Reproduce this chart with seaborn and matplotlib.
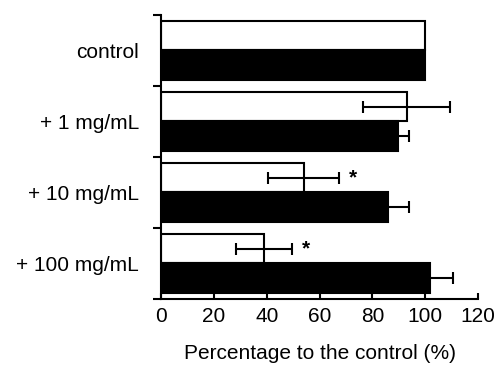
import matplotlib
matplotlib.use("Agg")
import matplotlib.pyplot as plt
import pandas as pd
import seaborn as sns

# values
groups = ["control", "+ 1 mg/mL", "+ 10 mg/mL", "+ 100 mg/mL"]
open_vals = [100, 93, 54, 39]
open_err = [0, 16.4, 13.5, 10.7]
filled_vals = [100, 89.5, 86, 101.6]
filled_err = [0, 4.3, 8, 8.8]
stars = [False, False, True, True]
x_ticks = [0, 20, 40, 60, 80, 100, 120]

sns.set_theme(style="ticks")
plt.rcParams['font.family'] = ['Liberation Sans', 'DejaVu Sans']
plt.rcParams['text.color'] = 'black'
plt.rcParams['axes.labelcolor'] = 'black'
plt.rcParams['xtick.color'] = 'black'
plt.rcParams['ytick.color'] = 'black'

df = pd.DataFrame({
    "group": groups * 2,
    "value": open_vals + filled_vals,
    "series": ["open"] * len(groups) + ["filled"] * len(groups),
})

fig = plt.figure(figsize=(4.94, 3.68), dpi=100)
ax = fig.add_axes([0.326, 0.1875, 0.642, 0.772])

sns.barplot(data=df, x="value", y="group", hue="series", orient="h",
            palette={"open": "white", "filled": "black"}, edgecolor="black",
            linewidth=1.5, width=0.82, legend=False, ax=ax)

# error bars, placed at the centre of each bar
n = len(groups)
bars = ax.patches
for i in range(n):
    for bar, val, err in [(bars[i], open_vals[i], open_err[i]),
                          (bars[n + i], filled_vals[i], filled_err[i])]:
        yc = bar.get_y() + bar.get_height() / 2
        if err > 0:
            ax.errorbar(val, yc, xerr=err, fmt="none", ecolor="black",
                        elinewidth=1.5, capsize=4.3, capthick=1.5, zorder=5)
    if stars[i]:
        yc = bars[i].get_y() + bars[i].get_height() / 2
        ax.annotate("*", (open_vals[i] + open_err[i], yc), xytext=(10, 0),
                    textcoords="offset points", ha="center", va="center",
                    fontsize=15, fontweight="bold")

ax.set_xlim(0, 120)
ax.set_ylim(n - 0.5, -0.5)
ax.set_xticks(x_ticks)
ax.set_xticklabels([str(t) for t in x_ticks])
ax.set_yticks(range(n))
ax.set_yticklabels(groups)
ax.set_yticks([k - 0.5 for k in range(n + 1)], minor=True)

ax.tick_params(axis="y", which="major", length=0, pad=16, labelsize=15)
ax.tick_params(axis="y", which="minor", length=6, width=1.5, direction="out")
ax.tick_params(axis="x", length=4, width=1.5, direction="in", labelsize=15, pad=6)

ax.set_ylabel("")
ax.set_xlabel("Percentage to the control (%)", fontsize=15, labelpad=13)

for side in ["top", "right"]:
    ax.spines[side].set_visible(False)
for side in ["left", "bottom"]:
    ax.spines[side].set_linewidth(1.5)
    ax.spines[side].set_color("black")

fig.savefig("out.png", dpi=100)
